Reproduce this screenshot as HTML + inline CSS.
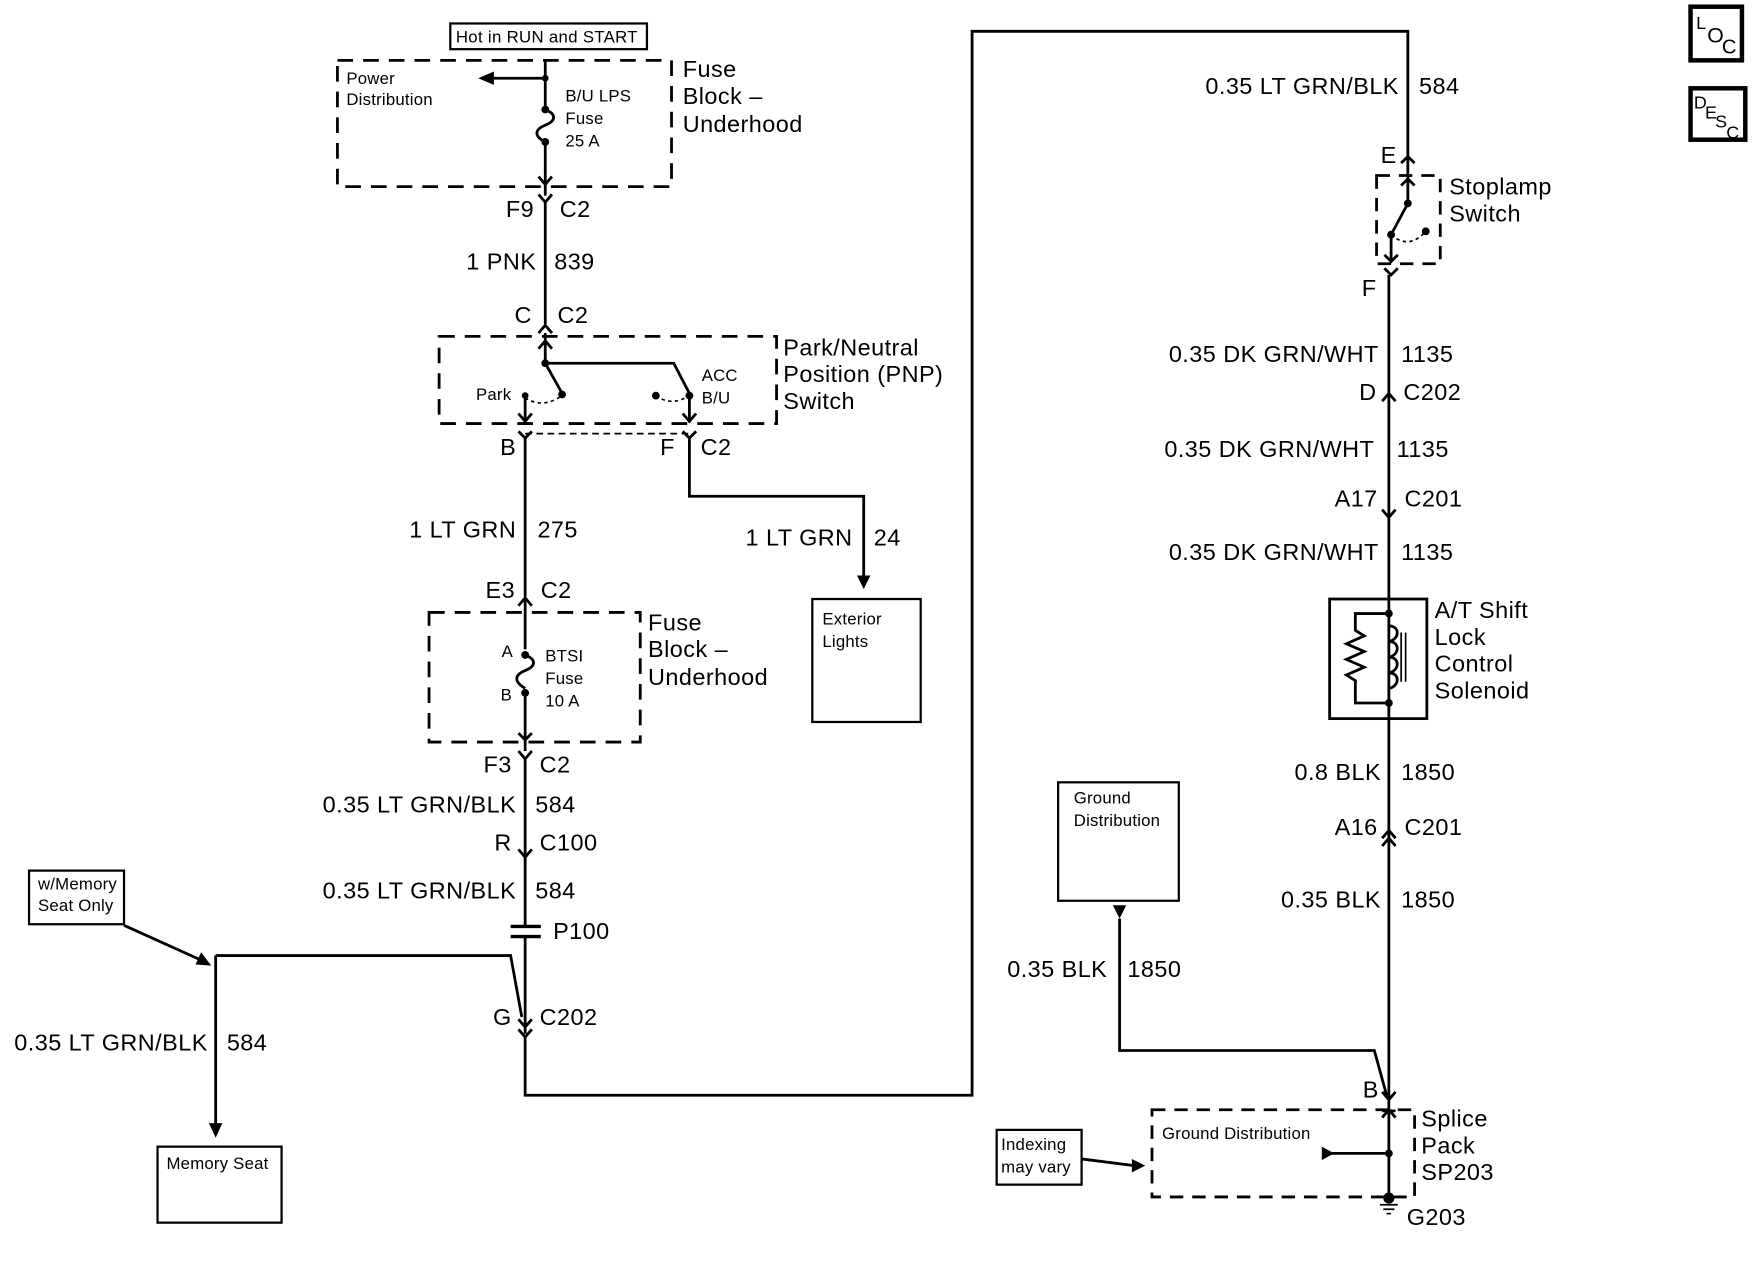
<!DOCTYPE html>
<html><head><meta charset="utf-8"><style>
html,body{margin:0;padding:0;background:#fff;}
svg{display:block;}
text{font-family:"Liberation Sans",Arial,sans-serif;fill:#000;}
.b{font-size:21px;letter-spacing:0.4px;}
.s{font-size:15px;letter-spacing:0.2px;}
</style></head><body>
<svg width="1752" height="1264" viewBox="0 0 1568 1131" preserveAspectRatio="none" xmlns="http://www.w3.org/2000/svg">
<g fill="none" stroke="#000" stroke-width="2.5">
<rect x="403" y="21" width="176" height="23" stroke-width="2"/>
<rect x="302" y="54" width="299" height="113" stroke-dasharray="14,9"/>
<path d="M488 54 V98 M488 127 V175 M488 70 H438"/>
<path d="M488 98 c10 4 10 10 0 14 c-10 4 -10 10 0 15"/>
<path d="M482 158 L488 165 L494 158 M482 174 L488 181 L494 174 M488 181 V290"/>
<path d="M482 298 L488 291 L494 298"/>
<rect x="393" y="301" width="302" height="78" stroke-dasharray="14,9"/>
<path d="M488 298 V325 H603 L617 352 M482 312 L488 305 L494 312"/>
<path d="M488 325 L502 350"/>
<path d="M470 354 V378 M464 370 L470 377 L476 370 M617 354 V378 M611 370 L617 377 L623 370"/>
<path d="M470 356 q16 10 33 -2 M587 354 q14 10 30 0" stroke-dasharray="3,3" stroke-width="1.5"/>
<path d="M470 388 H617" stroke-dasharray="6,4" stroke-width="1.5"/>
<path d="M464 386 L470 392 L476 386 M611 386 L617 392 L623 386"/>
<path d="M470 392 V534 M617 392 V444 H773 V520"/>
<path d="M464 542 L470 535 L476 542 M470 535 V581"/>
<rect x="384" y="548" width="189" height="116" stroke-dasharray="14,9"/>
<path d="M470 586 c10 4 10 10 0 14 c-10 4 -10 10 0 16 M470 620 V672 M464 656 L470 662 L476 656 M464 672 L470 679 L476 672"/>
<path d="M470 679 V828 M464 760 L470 767 L476 760 M470 838 V925"/>
<path d="M457 829 H484 M457 838 H484" stroke-width="3"/>
<path d="M193 855 H457 L467 910"/>
<path d="M464 912 L470 919 L476 912 M464 921 L470 928 L476 921 M470 928 V980 H870 V28 H1260 V145"/>
<rect x="26" y="779" width="85" height="48" stroke-width="2"/>
<path d="M111 828 L182 860"/>
<path d="M193 855 V1010"/>
<rect x="141" y="1026" width="111" height="68" stroke-width="2"/>
<rect x="727" y="536" width="97" height="110" stroke-width="2"/>
<path d="M1254 146 L1260 140 L1266 146"/>
<rect x="1232" y="157" width="57" height="79" stroke-dasharray="12,8"/>
<path d="M1260 145 V182 M1254 166 L1260 160 L1266 166 M1260 182 L1245 210 V234 M1239 228 L1245 234 L1251 228"/>
<path d="M1245 210 q16 14 31 -3" stroke-dasharray="3,3" stroke-width="1.5"/>
<path d="M1239 240 L1245 246 L1251 240 M1243 246 V1072"/>
<path d="M1237 359 L1243 352 L1249 359 M1237 456 L1243 463 L1249 456 M1237 750 L1243 743 L1249 750 M1237 757 L1243 750 L1249 757"/>
<rect x="1190" y="536" width="87" height="107" stroke-width="2.5"/>
<path d="M1243 549 H1213 V564 l8 5 -16 7 16 7 -16 7 16 7 -16 7 8 5 V629 H1243"/>
<path d="M1243 560 c10 0 10 12 0 14 c10 0 10 12 0 14 c10 0 10 12 0 14 c10 0 10 12 0 14"/>
<path d="M1254 566 V610 M1258 566 V610" stroke-width="1.5"/>
<rect x="947" y="700" width="108" height="106" stroke-width="2"/>
<path d="M1002 822 V940 H1230 L1241 980"/>
<path d="M1237 977 L1243 984 L1249 977 M1237 1000 L1243 993 L1249 1000 M1237 994 H1249"/>
<rect x="1031" y="993" width="235" height="78" stroke-dasharray="12,8"/>
<path d="M1190 1032 H1243"/>
<rect x="892" y="1011" width="76" height="49" stroke-width="2"/>
<path d="M968 1037 L1015 1043"/>
<path d="M1235 1078 H1251 M1238 1082 H1248 M1241 1086 H1245" stroke-width="1.5"/>
<rect x="1513" y="6" width="46" height="48" stroke-width="4"/>
<rect x="1513" y="79" width="49" height="46" stroke-width="4"/>
</g>
<g fill="#000">
<polygon points="428,70 442,64 442,76"/>
<circle cx="488" cy="70" r="3"/><circle cx="488" cy="98" r="3.5"/><circle cx="488" cy="127" r="3.5"/>
<circle cx="488" cy="325" r="3.5"/><circle cx="503" cy="353" r="3.5"/><circle cx="470" cy="354" r="3"/><circle cx="587" cy="354" r="3.5"/><circle cx="617" cy="354" r="3.5"/>
<circle cx="470" cy="586" r="3.5"/><circle cx="470" cy="620" r="3.5"/>
<polygon points="773,527 767,515 779,515"/>
<polygon points="189,864 175,863 180,852"/>
<polygon points="193,1018 187,1005 199,1005"/>
<circle cx="1260" cy="182" r="3.5"/><circle cx="1245" cy="210" r="3.5"/><circle cx="1276" cy="207" r="3.5"/>
<circle cx="1243" cy="549" r="3.5"/><circle cx="1243" cy="629" r="3.5"/>
<polygon points="1002,822 996,810 1008,810"/>
<polygon points="1183,1026 1183,1038 1194,1032"/>
<circle cx="1243" cy="1032" r="3.5"/><circle cx="1243" cy="1072" r="5"/>
<polygon points="1025,1043 1013,1037 1013,1049"/>
</g>
<text x="408" y="38" style="font-size:15px;letter-spacing:0.3px">Hot in RUN and START</text>
<text x="310" y="75" class="s">Power</text><text x="310" y="94" class="s">Distribution</text>
<text x="506" y="91" class="s">B/U LPS</text><text x="506" y="111" class="s">Fuse</text><text x="506" y="131" class="s">25 A</text>
<text x="611" y="69" class="b">Fuse</text><text x="611" y="93" class="b">Block –</text><text x="611" y="118" class="b">Underhood</text>
<text x="478" y="194" class="b" text-anchor="end">F9</text><text x="501" y="194" class="b">C2</text>
<text x="480" y="241" class="b" text-anchor="end">1 PNK</text><text x="496" y="241" class="b">839</text>
<text x="476" y="289" class="b" text-anchor="end">C</text><text x="499" y="289" class="b">C2</text>
<text x="701" y="318" class="b">Park/Neutral</text><text x="701" y="342" class="b">Position (PNP)</text><text x="701" y="366" class="b">Switch</text>
<text x="426" y="358" class="s">Park</text><text x="628" y="341" class="s">ACC</text><text x="628" y="361" class="s">B/U</text>
<text x="462" y="407" class="b" text-anchor="end">B</text><text x="604" y="407" class="b" text-anchor="end">F</text><text x="627" y="407" class="b">C2</text>
<text x="462" y="481" class="b" text-anchor="end">1 LT GRN</text><text x="481" y="481" class="b">275</text>
<text x="763" y="488" class="b" text-anchor="end">1 LT GRN</text><text x="782" y="488" class="b">24</text>
<text x="736" y="559" class="s">Exterior</text><text x="736" y="579" class="s">Lights</text>
<text x="461" y="535" class="b" text-anchor="end">E3</text><text x="484" y="535" class="b">C2</text>
<text x="580" y="564" class="b">Fuse</text><text x="580" y="588" class="b">Block –</text><text x="580" y="613" class="b">Underhood</text>
<text x="449" y="588" class="s">A</text><text x="448" y="627" class="s">B</text>
<text x="488" y="592" class="s">BTSI</text><text x="488" y="612" class="s">Fuse</text><text x="488" y="632" class="s">10 A</text>
<text x="458" y="691" class="b" text-anchor="end">F3</text><text x="483" y="691" class="b">C2</text>
<text x="462" y="727" class="b" text-anchor="end">0.35 LT GRN/BLK</text><text x="479" y="727" class="b">584</text>
<text x="458" y="761" class="b" text-anchor="end">R</text><text x="483" y="761" class="b">C100</text>
<text x="462" y="804" class="b" text-anchor="end">0.35 LT GRN/BLK</text><text x="479" y="804" class="b">584</text>
<text x="495" y="840" class="b">P100</text>
<text x="458" y="917" class="b" text-anchor="end">G</text><text x="483" y="917" class="b">C202</text>
<text x="34" y="796" class="s">w/Memory</text><text x="34" y="815" class="s">Seat Only</text>
<text x="186" y="940" class="b" text-anchor="end">0.35 LT GRN/BLK</text><text x="203" y="940" class="b">584</text>
<text x="149" y="1046" class="s">Memory Seat</text>
<text x="1252" y="84" class="b" text-anchor="end">0.35 LT GRN/BLK</text><text x="1270" y="84" class="b">584</text>
<text x="1250" y="146" class="b" text-anchor="end">E</text>
<text x="1297" y="174" class="b">Stoplamp</text><text x="1297" y="198" class="b">Switch</text>
<text x="1232" y="265" class="b" text-anchor="end">F</text>
<text x="1234" y="324" class="b" text-anchor="end">0.35 DK GRN/WHT</text><text x="1254" y="324" class="b">1135</text>
<text x="1232" y="358" class="b" text-anchor="end">D</text><text x="1256" y="358" class="b">C202</text>
<text x="1230" y="409" class="b" text-anchor="end">0.35 DK GRN/WHT</text><text x="1250" y="409" class="b">1135</text>
<text x="1233" y="453" class="b" text-anchor="end">A17</text><text x="1257" y="453" class="b">C201</text>
<text x="1234" y="501" class="b" text-anchor="end">0.35 DK GRN/WHT</text><text x="1254" y="501" class="b">1135</text>
<text x="1284" y="553" class="b">A/T Shift</text><text x="1284" y="577" class="b">Lock</text><text x="1284" y="601" class="b">Control</text><text x="1284" y="625" class="b">Solenoid</text>
<text x="1236" y="698" class="b" text-anchor="end">0.8 BLK</text><text x="1254" y="698" class="b">1850</text>
<text x="1233" y="747" class="b" text-anchor="end">A16</text><text x="1257" y="747" class="b">C201</text>
<text x="1236" y="812" class="b" text-anchor="end">0.35 BLK</text><text x="1254" y="812" class="b">1850</text>
<text x="961" y="719" class="s">Ground</text><text x="961" y="739" class="s">Distribution</text>
<text x="991" y="874" class="b" text-anchor="end">0.35 BLK</text><text x="1009" y="874" class="b">1850</text>
<text x="1234" y="982" class="b" text-anchor="end">B</text>
<text x="1040" y="1019" class="s">Ground Distribution</text>
<text x="1272" y="1008" class="b">Splice</text><text x="1272" y="1032" class="b">Pack</text><text x="1272" y="1056" class="b">SP203</text>
<text x="1259" y="1096" class="b">G203</text>
<text x="896" y="1029" class="s">Indexing</text><text x="896" y="1049" class="s">may vary</text>
<text x="1518" y="26" style="font-size:16px">L</text><text x="1528" y="38" style="font-size:19px">O</text><text x="1541" y="48" style="font-size:18px">C</text>
<text x="1516" y="97" style="font-size:16px">D</text><text x="1526" y="106" style="font-size:16px">E</text><text x="1535" y="114" style="font-size:16px">S</text><text x="1545" y="124" style="font-size:16px">C</text>
</svg>
</body></html>
